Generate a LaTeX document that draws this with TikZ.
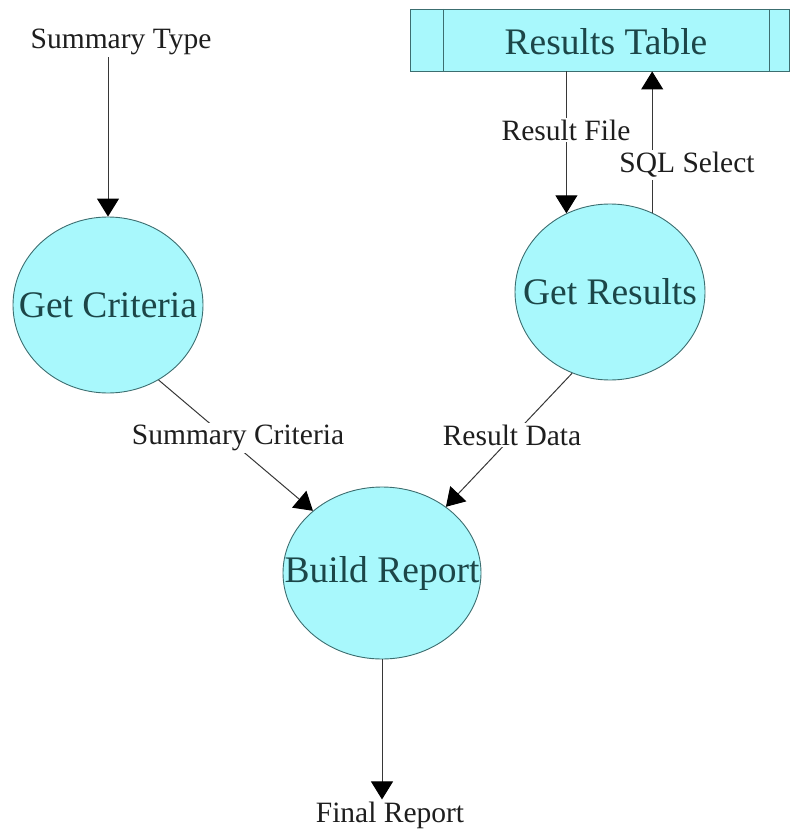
\documentclass[tikz,border=0pt]{standalone}
\usepackage{fontspec}
\setmainfont{Liberation Serif}
\usetikzlibrary{shapes.geometric,arrows.meta}
\definecolor{procfill}{RGB}{168,248,252}
\definecolor{procline}{RGB}{60,110,112}
\definecolor{proctext}{RGB}{28,70,72}
\definecolor{flowline}{RGB}{55,55,55}
\definecolor{labeltext}{RGB}{30,30,30}
\begin{document}
\begin{tikzpicture}[x=1pt,y=-1pt,
  process/.style={ellipse, draw=procline, line width=0.9pt, fill=procfill, inner sep=0pt},
  proctitle/.style={text=proctext, font=\fontsize{37.5}{40}\selectfont, inner sep=0pt},
  storebox/.style={rectangle, draw=procline, line width=0.9pt, fill=procfill, inner sep=0pt},
  flowlabel/.style={fill=white, inner sep=2pt, text=labeltext, font=\fontsize{29.5}{32}\selectfont},
  flow/.style={draw=flowline, line width=1pt, -{Triangle[width=22pt,length=18pt,black]}},
  ]
\useasboundingbox (0,0) rectangle (791,834);

% data store
\node[storebox, minimum width=379pt, minimum height=62pt] (rt) at (599.5,40) {};
\draw[procline, line width=0.9pt] (443,9) -- (443,71) (769,9) -- (769,71);
\node[proctitle] (rtname) at (606,42) {Results Table};

% processes: the ellipse is sized on its own, the title sits at its centre
\node[process, minimum width=190pt, minimum height=176pt] (gc) at (108,305) {};
\node[proctitle] (gctitle) at (gc.center) {Get Criteria};
\node[process, minimum width=190pt, minimum height=176pt] (gr) at (610,292) {};
\node[proctitle] (grtitle) at (gr.center) {Get Results};
\node[process, minimum width=198pt, minimum height=172pt] (br) at (382,573) {};
\node[proctitle] (brtitle) at (br.center) {Build Report};

% external flow labels
\node[flowlabel] (st) at (121,42) {Summary Type};
\node[flowlabel] (fr) at (390,815) {Final Report};

% flows
\draw[flow] (gc.north |- st.south) -- (gc.north);
\draw[flow] (gr.119.4 |- rt.south) -- (gr.119.4);
\draw[flow] (gr.62) -- (gr.62 |- rt.south);
\draw[flow] (gc.-56.3) -- (br.138);
\draw[flow] (gr.-115) -- (br.46);
\draw[flow] (br.south) -- (br.south |- fr.north);

% flow labels over the lines
\node[flowlabel] (rf) at (566,130) {Result File};
\node[flowlabel] (sq) at (687,165) {SQL Select};
\node[flowlabel] (sc) at (238,438) {Summary Criteria};
\node[flowlabel] (rd) at (512,435) {Result Data};
\end{tikzpicture}
\end{document}
